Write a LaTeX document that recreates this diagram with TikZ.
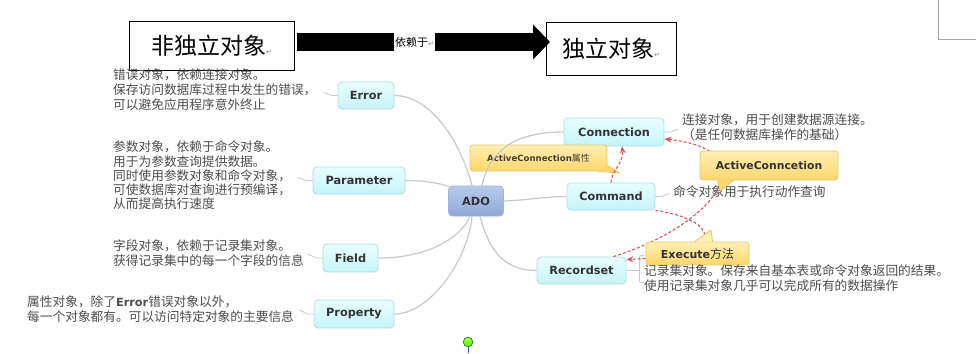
\documentclass[tikz,border=0pt]{standalone}
\usepackage{fontspec}
\setmainfont{Noto Sans CJK SC}
\newfontfamily\vfont{DejaVu Sans}
\newfontfamily\symfont{DejaVu Sans}
\usetikzlibrary{arrows.meta,calc}
\definecolor{cyanT}{HTML}{E8FEFE}
\definecolor{cyanB}{HTML}{C6F4F7}
\definecolor{cyanD}{HTML}{B2DDE2}
\definecolor{adoT}{HTML}{B8CBEB}
\definecolor{adoB}{HTML}{8EA7D6}
\definecolor{adoD}{HTML}{9FB3DB}
\definecolor{yelT}{HTML}{FFEFB2}
\definecolor{yelB}{HTML}{FDD76C}
\definecolor{yelD}{HTML}{EBC76A}
\definecolor{txt}{HTML}{333333}
\definecolor{desc}{HTML}{4D4D4D}
\definecolor{branchc}{HTML}{C9C9C9}
\definecolor{relc}{HTML}{E0505E}
\newcommand{\retmark}{{\symfont\fontsize{7}{7}\selectfont\textcolor{gray}{↵}}}
\newcommand{\descfont}{\fontsize{12.7}{15}\selectfont}
\tikzset{
  topbox/.style={draw=black, line width=0.9pt, inner sep=0pt, font=\fontsize{23}{23}\selectfont},
  topic/.style={draw=cyanD, top color=cyanT, bottom color=cyanB, rounded corners=4pt,
    line width=0.8pt, inner sep=0pt, text=txt, font=\vfont\bfseries\fontsize{11.3}{13}\selectfont},
  adonode/.style={draw=adoD, top color=adoT, bottom color=adoB, rounded corners=4pt,
    line width=0.8pt, inner sep=0pt, text=txt, font=\vfont\bfseries\fontsize{11.3}{13}\selectfont},
  callout/.style={draw=yelD, top color=yelT, bottom color=yelB, rounded corners=3pt,
    line width=0.8pt, inner sep=0pt, text=txt},
  descr/.style={inner sep=0pt, anchor=west, align=left, text=desc, font=\descfont},
  branch/.style={draw=branchc, line width=1.2pt},
  hookline/.style={draw=branchc, line width=0.8pt},
  rel/.style={draw=relc, line width=1.1pt, dash pattern=on 3pt off 2pt, -{Stealth[length=7pt,width=6pt]}},
}
\begin{document}
\begin{tikzpicture}[x=1pt,y=-1pt]
\useasboundingbox (0,0) rectangle (976,353);
\fill[white] (0,0) rectangle (976,353);

% top header
\draw[gray!70, line width=0.8pt] (938,0) -- (938,39) -- (976,39);
\node[topbox, minimum width=165pt, minimum height=49pt] (dep) at (211.5,45.5) {非独立对象\retmark};
\node[topbox, minimum width=130pt, minimum height=53pt] (indep) at (611,48.5) {独立对象\retmark};
\coordinate (aS) at (297,42);
\coordinate (aE) at (550,42);
\draw[black, line width=18pt, -{Triangle[length=17pt,width=34pt]}] (aS) -- (aE);
\node[fill=white, minimum height=21pt, inner xsep=1.5pt, inner ysep=0pt, font=\fontsize{11}{11}\selectfont] (lbl) at (414.5,42) {依赖于\retmark};

% topics
\node[topic, minimum width=56pt, minimum height=27pt] (err) at (366,95.5) {Error};
\node[topic, minimum width=92pt, minimum height=27pt] (par) at (359,180.5) {Parameter};
\node[topic, minimum width=55pt, minimum height=28pt] (fld) at (350.5,258) {Field};
\node[topic, minimum width=80pt, minimum height=28pt] (prp) at (354,314) {Property};
\node[topic, minimum width=100pt, minimum height=28pt] (con) at (614,132) {Connection};
\node[topic, minimum width=88pt, minimum height=27pt] (cmd) at (611,196.5) {Command};
\node[topic, minimum width=89pt, minimum height=27pt] (rs) at (581.5,270.5) {Recordset};
\node[adonode, minimum width=55pt, minimum height=30pt] (ado) at (476,201) {ADO};

% descriptions
\node[descr] (errd) at (113,90) {错误对象，依赖连接对象。\\保存访问数据库过程中发生的错误，\\可以避免应用程序意外终止};
\node[descr, font=\fontsize{12.7}{14.3}\selectfont] (pard) at (113,175.5) {参数对象，依赖于命令对象。\\用于为参数查询提供数据。\\同时使用参数对象和命令对象，\\可使数据库对查询进行预编译，\\从而提高执行速度};
\node[descr] (fldd) at (113,253) {字段对象，依赖于记录集对象。\\获得记录集中的每一个字段的信息};
\node[descr] (prpd) at (27,309.5) {属性对象，除了{\vfont\bfseries\fontsize{11.3}{11}\selectfont Error}错误对象以外，\\每一个对象都有。可以访问特定对象的主要信息};
\node[descr] (cond) at (682,127) {连接对象，用于创建数据源连接。\\（是任何数据库操作的基础）};
\node[descr] (cmdd) at (673,192) {命令对象用于执行动作查询};

% hooks between topics and descriptions
\draw[hookline] (err.west) -- ++(-6,0) -- ++(-8,-3);
\draw[hookline] (par.west) -- ++(-6,0) -- ++(-9,-3);
\draw[hookline] (fld.west) -- ++(-6,0) -- ++(-9,-4);
\draw[hookline] (prp.west) -- ++(-6,0) -- ++(-8,-4);
\draw[hookline] (con.east) -- ++(6,0) -- ++(8,-3);
\draw[hookline] (cmd.east) -- ++(6,0) -- ++(8,-3);
\draw[hookline] (rs.east) -- ++(13,0);
\draw[hookline, rounded corners=2pt] ($(rs.east)+(18,-15)$) -- ($(rs.east)+(13,-15)$) -- ($(rs.east)+(13,12)$) -- ($(rs.east)+(18,12)$);

% ActiveConnection属性 callout (behind branches)
\node[callout, minimum width=137pt, minimum height=26pt, font=\vfont\bfseries\fontsize{8.6}{10}\selectfont, text=txt!85!brown] (acp) at (538.5,158) {ActiveConnection{\normalfont\fontsize{9}{10}\selectfont 属性}};
\fill[yelB] ($(acp.south east)+(-10,-0.6)$) -- ($(acp.south east)+(12,1.5)$) -- ($(acp.south east)+(-0.6,-6)$) -- cycle;
\draw[yelD, line width=0.8pt] ($(acp.south east)+(-10,0)$) -- ($(acp.south east)+(12,1.5)$) -- ($(acp.south east)+(0,-6)$);

% branches
\draw[branch] (err.east) .. controls (430,95.5) and (460,140) .. ([xshift=-4pt]ado.north);
\draw[branch] (par.east) .. controls (428,180.5) and (442,184) .. ([xshift=4pt,yshift=-2pt]ado.north west);
\draw[branch] (fld.east) .. controls (430,258) and (462,236) .. ([xshift=-6pt]ado.south);
\draw[branch] (prp.east) .. controls (430,314) and (468,260) .. ([xshift=-4pt]ado.south);
\draw[branch] ([xshift=6pt]ado.north) .. controls (490,150) and (515,132) .. (con.west);
\draw[branch] (ado.east) .. controls (530,200) and (545,196.5) .. (cmd.west);
\draw[branch] ([xshift=4pt]ado.south) .. controls (488,245) and (500,270.5) .. (rs.west);

% relationships
\draw[rel] (cmd.north) .. controls (611,172) and (624,162) .. ([xshift=8pt]con.south);
\draw[rel] ([xshift=-13pt]rs.north east) .. controls (715,225) and (770,150) .. ([yshift=-7pt]con.east);
\draw[rel] (cmd.south east) .. controls (720,220) and (730,255) .. ([yshift=11pt]rs.east);

% callouts over relationships
\node[callout, minimum width=138pt, minimum height=29pt, font=\vfont\bfseries\fontsize{10.8}{12}\selectfont] (acn) at (769,165.5) {ActiveConncetion};
\fill[yelB] ($(acn.south west)+(18,-0.6)$) -- (720,191) -- ($(acn.south west)+(34,-0.6)$) -- cycle;
\draw[yelD, line width=0.8pt] ($(acn.south west)+(18,0)$) -- (720,191) -- ($(acn.south west)+(34,0)$);

\node[callout, minimum width=103pt, minimum height=23pt, font=\vfont\bfseries\fontsize{11}{12}\selectfont] (exe) at (697.5,253.5) {Execute{\normalfont\fontsize{12}{12}\selectfont 方法}};
\fill[yelT] ($(exe.north west)+(49,0.6)$) -- (711,230) -- ($(exe.north west)+(67,0.6)$) -- cycle;
\draw[yelD, line width=0.8pt] ($(exe.north west)+(49,0)$) -- (711,230) -- ($(exe.north west)+(67,0)$);

% Recordset description on top of the Execute callout
\node[descr] (rsd) at (644,278) {记录集对象。保存来自基本表或命令对象返回的结果。\\使用记录集对象几乎可以完成所有的数据操作};

% pin
\draw[blue!40!gray, line width=1pt] (468,347) -- (468,353);
\filldraw[fill=green!55!yellow, draw=green!45!black, line width=0.6pt] (468,342) circle (4.8);
\fill[white, opacity=0.5] (468,340) ellipse (3 and 1.6);
\end{tikzpicture}
\end{document}
